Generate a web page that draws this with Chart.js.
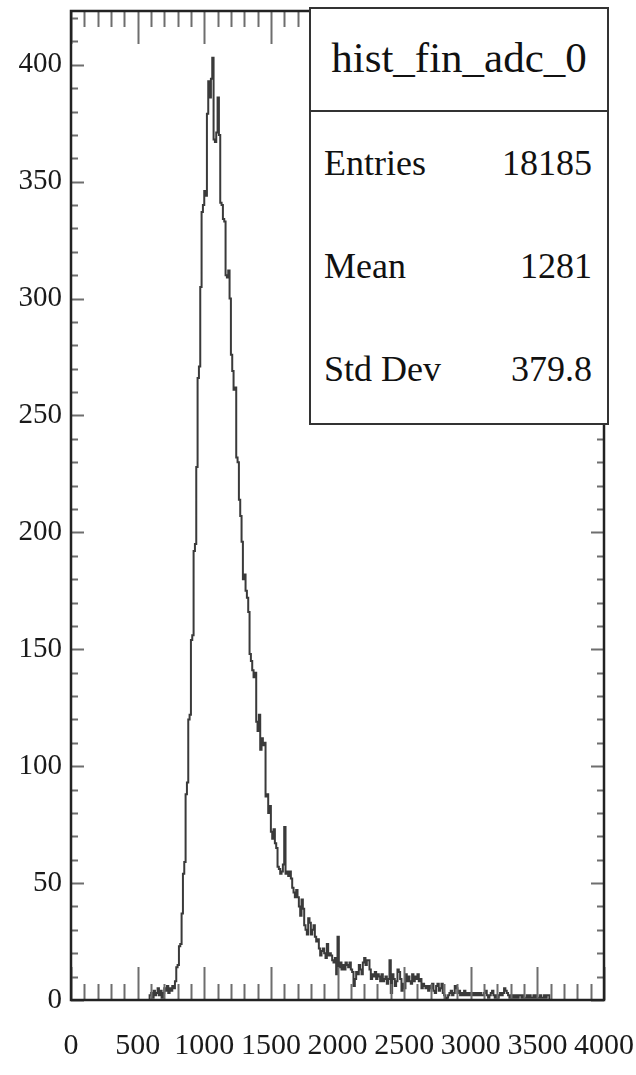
<!DOCTYPE html>
<html>
<head>
<meta charset="utf-8">
<title>hist_fin_adc_0</title>
<script src="https://cdn.jsdelivr.net/npm/chart.js@4.4.0/dist/chart.umd.min.js"></script>
<style>
    html, body { margin: 0; padding: 0; background: #fff; }
    #wrap { position: relative; width: 636px; height: 1075px; }
    #histChart { position: absolute; left: 0; top: 0; }
    #stats {
        position: absolute; left: 309px; top: 7px; width: 300px; height: 418px;
        box-sizing: border-box; border: 2px solid #333; background: #fff;
        font-family: "Liberation Serif", "Times New Roman", serif; color: #111;
    }
    #stats .divider { position: absolute; left: 0; right: 0; top: 101px; height: 2px; background: #333; }
    #stats .title { position: absolute; left: 0; right: 0; top: 27px; text-align: center; font-size: 43px; line-height: 43px; }
    #stats .row { position: absolute; left: 13px; right: 15px; display: flex; justify-content: space-between; font-size: 36px; line-height: 36px; }
</style>
</head>
<body>
<div id="wrap">
    <canvas id="histChart" width="636" height="1075"></canvas>
    <div id="stats"><div class="divider"></div></div>
</div>
<script>
    // histogram settings
    const histTitle = "hist_fin_adc_0";
    const statLabels = ["Entries", "Mean", "Std Dev"];
    const statValues = ["18185", "1281", "379.8"];
    const statTops = [136, 239, 342];

    const xMin = 0, xMax = 4000, xMajor = 500, xMinor = 100;
    const yMin = 0, yMax = 423, yMajor = 50, yMinor = 10;

    const binWidth = 10;
    const firstBin = 500;
    // bin contents, one row = 100 adc counts
    const counts = [
        0, 0, 0, 0, 0, 0, 0, 0, 0, 2,
        3, 1, 4, 2, 3, 5, 2, 4, 1, 3,
        5, 4, 6, 3, 5, 4, 6, 5, 8, 14,
        15, 23, 24, 37, 54, 59, 88, 93, 120, 122,
        154, 156, 192, 195, 228, 266, 271, 305, 337, 340,
        346, 344, 379, 393, 386, 394, 403, 368, 367, 371,
        386, 370, 341, 340, 334, 333, 310, 309, 312, 300,
        276, 269, 261, 262, 232, 230, 214, 207, 196, 180,
        182, 175, 172, 166, 148, 145, 141, 138, 140, 119,
        115, 122, 107, 112, 109, 110, 87, 88, 80, 83,
        72, 69, 73, 67, 65, 57, 56, 54, 55, 58,
        74, 54, 55, 53, 55, 52, 48, 46, 44, 47,
        44, 40, 36, 43, 39, 32, 30, 28, 35, 33,
        28, 30, 32, 27, 25, 26, 22, 19, 21, 22,
        20, 18, 24, 19, 20, 19, 17, 16, 18, 11,
        27, 14, 16, 13, 15, 13, 16, 15, 14, 16,
        13, 12, 6, 9, 12, 11, 15, 13, 11, 16,
        18, 15, 17, 17, 13, 9, 11, 10, 12, 9,
        11, 10, 8, 11, 8, 9, 10, 7, 9, 17,
        3, 11, 9, 6, 8, 13, 12, 9, 4, 7,
        5, 11, 8, 10, 8, 7, 11, 8, 10, 9,
        11, 8, 9, 5, 7, 6, 5, 6, 4, 6,
        5, 7, 4, 3, 6, 7, 4, 5, 7, 3,
        2, 0, 1, 2, 3, 4, 2, 3, 6, 5,
        3, 4, 2, 3, 2, 4, 2, 3, 2, 3,
        2, 3, 2, 3, 2, 3, 2, 3, 2, 2,
        3, 4, 2, 1, 2, 3, 4, 2, 1, 2,
        1, 2, 3, 2, 3, 5, 4, 3, 2, 1,
        2, 1, 2, 1, 2, 1, 2, 2, 1, 2,
        1, 1, 2, 1, 2, 1, 1, 2, 1, 2,
        1, 1, 2, 1, 1, 2, 1, 2, 2, 0
    ];

    const serif = '"Liberation Serif", "Times New Roman", serif';

    /** stats box */
    function crearStats() {
        const box = document.getElementById("stats");
        const t = document.createElement("div");
        t.className = "title";
        t.textContent = histTitle;
        box.appendChild(t);
        statLabels.forEach((lab, i) => {
            const row = document.createElement("div");
            row.className = "row";
            row.style.top = statTops[i] + "px";
            const a = document.createElement("span");
            a.textContent = lab;
            const b = document.createElement("span");
            b.textContent = statValues[i];
            row.appendChild(a);
            row.appendChild(b);
            box.appendChild(row);
        });
    }

    // frame + inward ticks like ROOT
    const frameTicks = {
        id: "frameTicks",
        afterDatasetsDraw(chart) {
            const { ctx, chartArea: a, scales: { x, y } } = chart;
            ctx.save();
            ctx.strokeStyle = "#6e6e6e";
            ctx.lineWidth = 2;
            ctx.beginPath();
            for (let v = xMin; v <= xMax; v += xMinor) {
                const px = Math.round(x.getPixelForValue(v)) + 0.5;
                const len = v % xMajor === 0 ? 33 : 16;
                ctx.moveTo(px, a.bottom); ctx.lineTo(px, a.bottom - len);
                ctx.moveTo(px, a.top); ctx.lineTo(px, a.top + len);
            }
            for (let v = yMin; v <= yMax; v += yMinor) {
                const py = Math.round(y.getPixelForValue(v)) + 0.5;
                const len = v % yMajor === 0 ? 13 : 7;
                ctx.moveTo(a.left, py); ctx.lineTo(a.left + len, py);
                ctx.moveTo(a.right, py); ctx.lineTo(a.right - len, py);
            }
            ctx.stroke();
            ctx.strokeStyle = "#222";
            ctx.lineWidth = 2.5;
            ctx.strokeRect(a.left, a.top, a.right - a.left, a.bottom - a.top);
            ctx.restore();
        }
    };

    function generarHistograma() {
        const points = [{ x: xMin, y: 0 }];
        counts.forEach((c, i) => points.push({ x: firstBin + i * binWidth, y: c }));
        points.push({ x: firstBin + counts.length * binWidth, y: 0 });
        points.push({ x: xMax, y: 0 });

        new Chart(document.getElementById("histChart"), {
            type: "line",
            data: {
                datasets: [{
                    label: histTitle,
                    data: points,
                    stepped: "before",
                    borderColor: "#3a3a3a",
                    borderWidth: 2,
                    pointRadius: 0,
                    fill: false
                }]
            },
            options: {
                responsive: false,
                animation: false,
                layout: { padding: { top: 11, right: 32, left: 0, bottom: 0 } },
                plugins: {
                    legend: { display: false },
                    tooltip: { enabled: false }
                },
                scales: {
                    x: {
                        type: "linear",
                        min: xMin,
                        max: xMax,
                        grid: { display: false, drawTicks: false },
                        border: { display: false },
                        ticks: {
                            stepSize: xMajor,
                            includeBounds: false,
                            autoSkip: false,
                            maxRotation: 0,
                            minRotation: 0,
                            padding: 28,
                            color: "#1a1a1a",
                            font: { family: serif, size: 30 },
                            callback: v => String(v)
                        },
                        afterFit: s => { s.height = 75; s.paddingLeft = 0; s.paddingRight = 0; }
                    },
                    y: {
                        min: yMin,
                        max: yMax,
                        grid: { display: false, drawTicks: false },
                        border: { display: false },
                        ticks: {
                            stepSize: yMajor,
                            includeBounds: false,
                            padding: 9,
                            color: "#1a1a1a",
                            font: { family: serif, size: 29 },
                            callback: v => String(v)
                        },
                        afterFit: s => { s.width = 71; s.paddingTop = 0; s.paddingBottom = 0; }
                    }
                }
            },
            plugins: [frameTicks]
        });
    }

    window.addEventListener("DOMContentLoaded", () => {
        crearStats();
        generarHistograma();
    });
</script>
</body>
</html>
